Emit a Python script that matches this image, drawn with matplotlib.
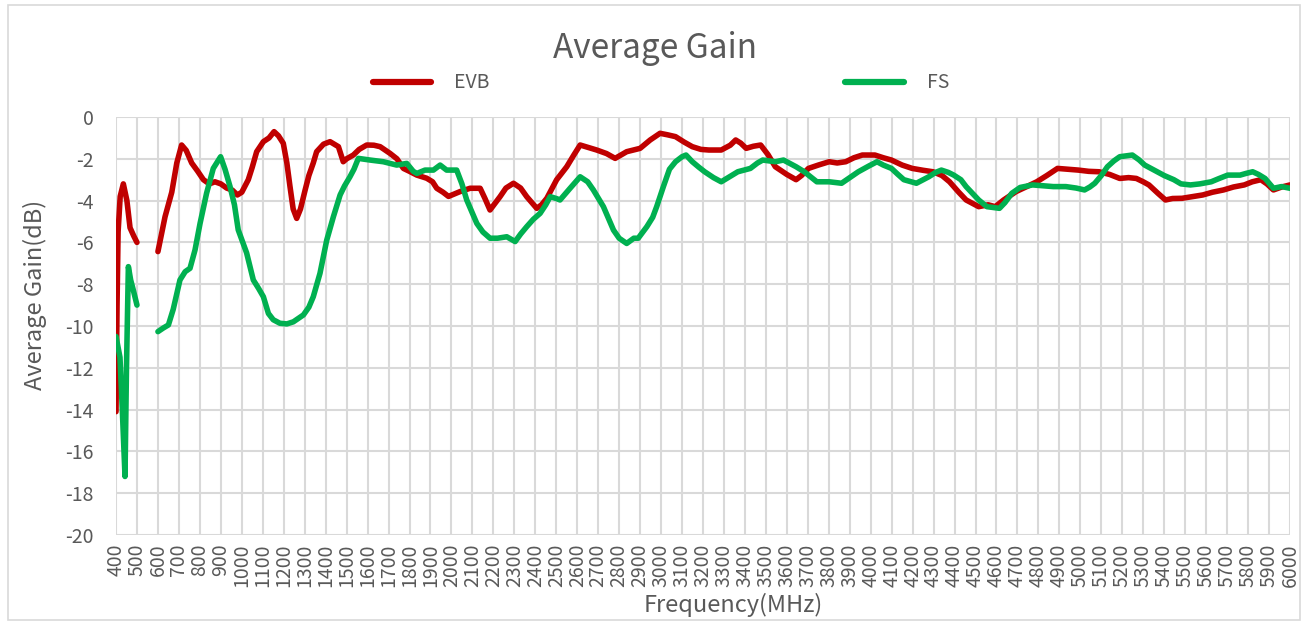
import numpy as np
import matplotlib.pyplot as plt
from matplotlib.patches import Rectangle

plt.rcParams['font.family'] = ['Noto Sans CJK SC', 'DejaVu Sans']
plt.rcParams['axes.unicode_minus'] = False

evb_freq = [400, 405, 410, 420, 435, 452, 467, 485, 500, 550,
            600, 618, 634, 666, 690, 713, 735, 761, 790, 817, 845, 872, 900, 928, 955, 979,
            1000, 1031, 1050, 1071, 1103, 1130, 1154, 1175, 1198, 1215, 1230, 1245, 1262, 1280,
            1302, 1320, 1341, 1357, 1390, 1421, 1461, 1484, 1500, 1532, 1560, 1596, 1630, 1660,
            1707, 1740, 1771, 1800, 1835, 1882, 1910, 1930, 1960, 1986, 2010, 2041, 2089, 2137,
            2160, 2184, 2210, 2232, 2260, 2296, 2330, 2359, 2407, 2430, 2455, 2502, 2550, 2585,
            2614, 2650, 2693, 2740, 2781, 2836, 2900, 2948, 2995, 3030, 3069, 3110, 3149, 3190,
            3228, 3287, 3330, 3356, 3380, 3406, 3440, 3475, 3510, 3545, 3600, 3644, 3670, 3703,
            3750, 3802, 3840, 3881, 3920, 3960, 4020, 4060, 4099, 4150, 4198, 4250, 4297, 4340,
            4376, 4420, 4455, 4515, 4560, 4594, 4634, 4693, 4740, 4792, 4840, 4891, 4940, 4990,
            5040, 5089, 5140, 5188, 5230, 5267, 5300, 5327, 5370, 5406, 5440, 5485, 5540, 5584,
            5630, 5683, 5730, 5782, 5820, 5861, 5890, 5921, 5960, 6000]
evb_gain = [-14.1, -9.0, -5.5, -3.8, -3.2, -4.0, -5.3, -5.7, -6.0, np.nan,
            -6.44, -5.55, -4.77, -3.6, -2.2, -1.34, -1.6, -2.2, -2.6, -3.0, -3.2, -3.1, -3.2, -3.4, -3.5, -3.73,
            -3.6, -3.0, -2.4, -1.66, -1.18, -1.0, -0.7, -0.9, -1.26, -2.2, -3.33, -4.4, -4.85, -4.4,
            -3.5, -2.8, -2.2, -1.66, -1.3, -1.18, -1.42, -2.14, -2.0, -1.82, -1.55, -1.34, -1.35, -1.42,
            -1.74, -2.0, -2.46, -2.6, -2.78, -2.93, -3.1, -3.41, -3.6, -3.8, -3.7, -3.57, -3.41, -3.41,
            -3.9, -4.45, -4.1, -3.81, -3.4, -3.17, -3.4, -3.81, -4.37, -4.2, -3.89, -3.0, -2.38, -1.8,
            -1.34, -1.45, -1.58, -1.75, -1.98, -1.66, -1.5, -1.1, -0.78, -0.85, -0.94, -1.2, -1.42, -1.55,
            -1.58, -1.58, -1.35, -1.1, -1.25, -1.5, -1.4, -1.34, -1.8, -2.38, -2.75, -3.0, -2.8, -2.46,
            -2.3, -2.14, -2.2, -2.14, -1.95, -1.82, -1.82, -1.95, -2.06, -2.3, -2.46, -2.55, -2.62, -2.8,
            -3.1, -3.6, -3.97, -4.29, -4.2, -4.29, -3.97, -3.57, -3.35, -3.1, -2.8, -2.46, -2.5, -2.54,
            -2.6, -2.62, -2.75, -2.94, -2.9, -2.94, -3.1, -3.25, -3.65, -3.97, -3.9, -3.89, -3.8, -3.73,
            -3.6, -3.49, -3.35, -3.25, -3.1, -3.0, -3.2, -3.49, -3.35, -3.25]

fs_freq = [400, 419, 430, 443, 450, 459, 470, 483, 500, 550,
           600, 625, 650, 673, 705, 730, 753, 777, 801, 832, 864, 899, 920, 944, 965, 983,
           1023, 1055, 1080, 1103, 1127, 1150, 1182, 1215, 1246, 1294, 1320, 1341, 1373, 1405,
           1437, 1469, 1490, 1516, 1535, 1556, 1612, 1675, 1739, 1787, 1818, 1835, 1874, 1914,
           1946, 1977, 2025, 2050, 2073, 2100, 2121, 2150, 2184, 2220, 2264, 2304, 2330, 2359,
           2390, 2423, 2450, 2471, 2500, 2518, 2566, 2614, 2650, 2677, 2725, 2773, 2800, 2836,
           2870, 2891, 2932, 2960, 2979, 3011, 3040, 3069, 3100, 3119, 3149, 3180, 3208, 3250,
           3287, 3320, 3366, 3426, 3460, 3485, 3545, 3584, 3644, 3683, 3743, 3802, 3861, 3900,
           3941, 3990, 4030, 4060, 4099, 4130, 4158, 4218, 4250, 4277, 4310, 4337, 4370, 4396,
           4430, 4455, 4490, 4515, 4554, 4614, 4640, 4673, 4713, 4772, 4871, 4931, 4980, 5020,
           5045, 5069, 5100, 5129, 5160, 5188, 5248, 5280, 5307, 5366, 5400, 5446, 5480, 5525,
           5570, 5624, 5660, 5703, 5762, 5790, 5822, 5850, 5881, 5921, 5960, 6000]
fs_gain = [-10.5, -11.5, -14.0, -17.2, -12.0, -7.16, -7.8, -8.3, -9.0, np.nan,
           -10.27, -10.1, -9.95, -9.2, -7.8, -7.4, -7.24, -6.36, -5.09, -3.65, -2.46, -1.9, -2.5, -3.33, -4.2, -5.4,
           -6.5, -7.8, -8.2, -8.6, -9.4, -9.7, -9.87, -9.9, -9.8, -9.47, -9.1, -8.6, -7.48, -5.9,
           -4.77, -3.73, -3.3, -2.86, -2.5, -1.98, -2.06, -2.14, -2.3, -2.22, -2.6, -2.7, -2.54, -2.54,
           -2.3, -2.54, -2.54, -3.2, -3.97, -4.6, -5.09, -5.5, -5.8, -5.8, -5.73, -5.96, -5.6, -5.25,
           -4.9, -4.61, -4.2, -3.81, -3.9, -3.97, -3.41, -2.86, -3.1, -3.49, -4.29, -5.41, -5.8, -6.05,
           -5.8, -5.8, -5.25, -4.8, -4.29, -3.33, -2.5, -2.14, -1.9, -1.82, -2.14, -2.4, -2.62, -2.9,
           -3.1, -2.9, -2.62, -2.46, -2.2, -2.06, -2.14, -2.06, -2.38, -2.62, -3.1, -3.1, -3.17, -2.9,
           -2.62, -2.35, -2.14, -2.3, -2.46, -2.75, -3.0, -3.17, -3.0, -2.86, -2.65, -2.54, -2.65, -2.78,
           -3.0, -3.33, -3.7, -3.97, -4.29, -4.37, -4.1, -3.65, -3.37, -3.25, -3.33, -3.33, -3.4, -3.49,
           -3.35, -3.17, -2.8, -2.38, -2.1, -1.9, -1.82, -2.05, -2.3, -2.62, -2.8, -3.0, -3.2, -3.25,
           -3.2, -3.1, -2.95, -2.78, -2.78, -2.7, -2.62, -2.75, -2.94, -3.41, -3.33, -3.41]

freq_ticks = list(range(400, 6001, 100))
gain_ticks = list(range(-20, 1, 2))

text_col = '#595959'
grid_col = '#D9D9D9'

fig = plt.figure(figsize=(13.07, 6.25), dpi=100)
ax = fig.add_axes([116/1307, 90/625, 1174/1307, 418/625])

ax.plot(evb_freq, evb_gain, color='#C00000', lw=4.0, solid_capstyle='round', label='EVB')
ax.plot(fs_freq, fs_gain, color='#00B050', lw=4.0, solid_capstyle='round', label='FS')

ax.set_xlim(400, 6000)
ax.set_ylim(-20, 0)
ax.set_xticks(freq_ticks)
ax.set_xticklabels([str(f) for f in freq_ticks], rotation=90)
ax.set_yticks(gain_ticks)
ax.grid(True, color=grid_col, lw=1.5)
ax.set_axisbelow(True)
for s in ax.spines.values():
    s.set_visible(False)
ax.tick_params(axis='both', length=0, labelcolor=text_col, labelsize=14)
ax.tick_params(axis='y', pad=16)
ax.tick_params(axis='x', pad=6)

fig.text(655/1307, 1 - 48/625, 'Average Gain', ha='center', va='center',
         fontsize=24, color=text_col)
fig.text(35/1307, 1 - 295/625, 'Average Gain(dB)', ha='center', va='center',
         rotation=90, fontsize=17, color=text_col)
fig.text(733/1307, 1 - 605/625, 'Frequency(MHz)', ha='center', va='center',
         fontsize=17, color=text_col)

leg = fig.legend(loc='center', bbox_to_anchor=(661/1307, 1 - 83/625), ncol=2,
                 frameon=False, fontsize=14, handlelength=3.0, handletextpad=1.2,
                 columnspacing=18.3, labelcolor=text_col)
for h in leg.get_lines():
    h.set_linewidth(4.5)

fig.add_artist(Rectangle((8/1307, 5/625), 1292/1307, 615/625, transform=fig.transFigure,
                         fill=False, edgecolor=grid_col, lw=1.2))

fig.savefig('out.png', dpi=100)
